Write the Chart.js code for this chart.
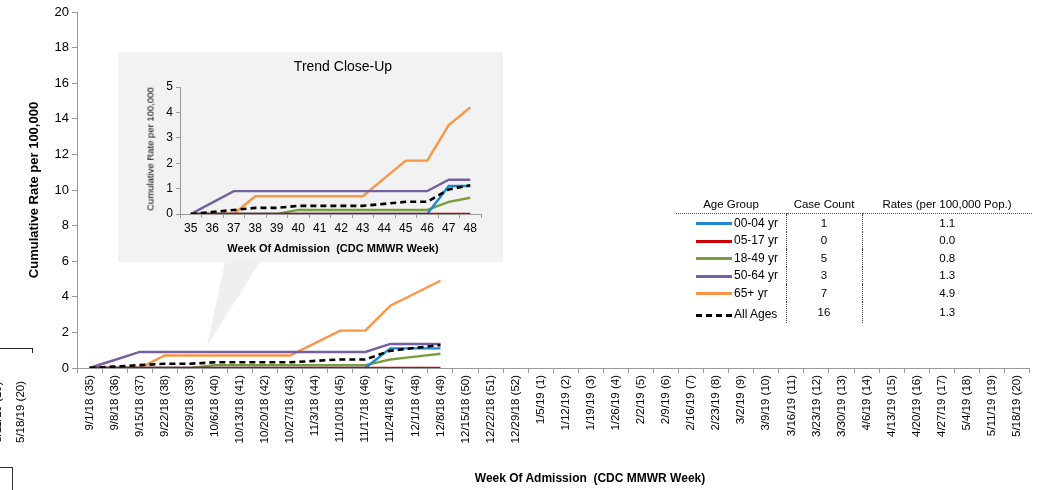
<!DOCTYPE html>
<html>
<head>
<meta charset="utf-8">
<script src="https://cdn.jsdelivr.net/npm/chart.js@4.4.0/dist/chart.umd.min.js"></script>
<style>
  body { margin: 0; background: #fff; font-family: "Liberation Sans", Arial, sans-serif; }
  #wrap { position: relative; width: 1044px; height: 490px; overflow: hidden; }
  #main { position: absolute; left: 0; top: 0; }
  .txt { position: absolute; white-space: nowrap; color: #000; }
  .rot { transform: translate(-50%, -50%) rotate(-90deg); }
  .ctr { transform: translate(-50%, -50%); }
  #inset { position: absolute; left: 118px; top: 52px; width: 385px; height: 210px; background: #f2f2f2; }
  #callout { position: absolute; left: 200px; top: 262px; width: 65px; height: 86px; background: #efefef;
             clip-path: polygon(25px 0, 60px 0, 7px 84px); }
  #legend { position: absolute; left: 676px; top: 196px; width: 356px; font-size: 11.5px; }
  #legend table { border-collapse: collapse; }
  #legend th { font-weight: normal; padding: 0 0 2px 0; border-bottom: 1px dotted #555; height: 15px; }
  #legend td { padding: 0; height: 17.5px; text-align: center; }
  #legend td.name { text-align: left; font-family: "Liberation Sans Narrow", "Liberation Sans", Arial, sans-serif; font-size: 12px; border-right: 1px dotted #444; padding-right: 4px; }
  #legend td.cnt { border-right: 1px dotted #444; }
  .sw { display: inline-block; width: 36px; height: 0; border-top: 3px solid; vertical-align: middle; margin: 0 2px 0 20px; }
</style>
</head>
<body>
<div id="wrap">
  <canvas id="main" width="1044" height="490"></canvas>

  <!-- clipped neighbour chart at the far left -->
  <div class="txt rot" style="left:20px; top:412px; font-size:11.5px;">5/18/19 (20)</div>
  <div class="txt rot" style="left:-3px; top:412px; font-size:11.5px;">5/11/19 (19)</div>
  <div style="position:absolute; left:0; top:348px; width:33px; border-top:1px solid #222;"></div>
  <div style="position:absolute; left:32px; top:348px; height:5px; border-left:1px solid #222;"></div>
  <div style="position:absolute; left:-2px; top:467px; width:13px; height:30px; border:1px solid #333;"></div>

  <div class="txt rot" style="left:33px; top:190px; font-size:13px; font-weight:bold;">Cumulative Rate per 100,000</div>
  <div class="txt ctr" style="left:590px; top:478px; font-size:12px; font-weight:bold;">Week Of Admission&nbsp; (CDC MMWR Week)</div>

  <div id="callout"></div>
  <div id="inset">
    <canvas id="zoom" width="385" height="210"></canvas>
    <div class="txt ctr" style="left:225px; top:14px; font-size:14px;">Trend Close-Up</div>
    <div class="txt rot" style="left:32px; top:97px; font-size:9.5px; font-family:'Liberation Sans Narrow','Liberation Sans',Arial;">Cumulative Rate per 100,000</div>
    <div class="txt ctr" style="left:215px; top:196px; font-size:11px; font-weight:bold;">Week Of Admission&nbsp; (CDC MMWR Week)</div>
  </div>

  <div id="legend">
    <table>
      <tr><th style="width:110px">Age Group</th><th style="width:76px">Case Count</th><th style="width:170px">Rates (per 100,000 Pop.)</th></tr>
      <tbody id="rows"></tbody>
    </table>
  </div>
</div>

<script>
// week labels (date + MMWR week)
const weekLabels = [
  '9/1/18 (35)', '9/8/18 (36)', '9/15/18 (37)', '9/22/18 (38)', '9/29/18 (39)', '10/6/18 (40)',
  '10/13/18 (41)', '10/20/18 (42)', '10/27/18 (43)', '11/3/18 (44)', '11/10/18 (45)', '11/17/18 (46)',
  '11/24/18 (47)', '12/1/18 (48)', '12/8/18 (49)', '12/15/18 (50)', '12/22/18 (51)', '12/29/18 (52)',
  '1/5/19 (1)', '1/12/19 (2)', '1/19/19 (3)', '1/26/19 (4)', '2/2/19 (5)', '2/9/19 (6)',
  '2/16/19 (7)', '2/23/19 (8)', '3/2/19 (9)', '3/9/19 (10)', '3/16/19 (11)', '3/23/19 (12)',
  '3/30/19 (13)', '4/6/19 (14)', '4/13/19 (15)', '4/20/19 (16)', '4/27/19 (17)', '5/4/19 (18)',
  '5/11/19 (19)', '5/18/19 (20)'
];
const closeUpLabels = ['35', '36', '37', '38', '39', '40', '41', '42', '43', '44', '45', '46', '47', '48'];

// cumulative rate per 100,000 by week (weeks 35..49)
const age0004 = [0, 0, 0, 0, 0, 0, 0, 0, 0, 0, 0, 0, 1.1, 1.1, 1.1];
const age0517 = [0, 0, 0, 0, 0, 0, 0, 0, 0, 0, 0, 0, 0, 0, 0];
const age1849 = [0, 0, 0, 0, 0, 0.16, 0.16, 0.16, 0.16, 0.16, 0.16, 0.16, 0.48, 0.64, 0.8];
const age5064 = [0, 0.45, 0.9, 0.9, 0.9, 0.9, 0.9, 0.9, 0.9, 0.9, 0.9, 0.9, 1.35, 1.35, 1.35];
const age65up = [0, 0, 0, 0.7, 0.7, 0.7, 0.7, 0.7, 0.7, 1.4, 2.1, 2.1, 3.5, 4.2, 4.9];
const allAges = [0, 0.08, 0.16, 0.24, 0.24, 0.32, 0.32, 0.32, 0.32, 0.4, 0.48, 0.48, 0.97, 1.13, 1.29];

const groupNames = ['00-04 yr', '05-17 yr', '18-49 yr', '50-64 yr', '65+ yr', 'All Ages'];
const caseCounts = [1, 0, 5, 3, 7, 16];
const rates = ['1.1', '0.0', '0.8', '1.3', '4.9', '1.3'];
const colors = ['#1f88d2', '#cc0000', '#77a03c', '#7460a0', '#f79646', '#000000'];

const seriesList = [age0004, age0517, age1849, age5064, age65up, allAges];

// legend table
const rows = document.getElementById('rows');
groupNames.forEach((name, i) => {
  const tr = document.createElement('tr');
  const style = i === 5 ? 'border-top-style:dashed; border-color:#000; border-top-width:3px;' : 'border-color:' + colors[i] + ';';
  tr.innerHTML = '<td class="name"><span class="sw" style="' + style + '"></span>' + name + '</td>' +
    '<td class="cnt">' + caseCounts[i] + '</td><td>' + rates[i] + '</td>';
  if (i === 5) tr.firstChild.style.paddingTop = '4px';
  rows.appendChild(tr);
});

// dataset 0 is drawn on top, so the dashed total goes first, red next
const drawOrder = [5, 1, 0, 2, 3, 4];
function makeDatasets(len) {
  return drawOrder.map(i => ({
    label: groupNames[i],
    data: seriesList[i].slice(0, len),
    borderColor: colors[i],
    borderWidth: i === 5 ? 2.6 : 2.4,
    borderDash: i === 5 ? [6, 4] : [],
    pointRadius: 0,
    tension: 0,
    fill: false
  }));
}

const axisGrey = '#9a9a9a';
const font = { family: 'Liberation Sans, Arial, sans-serif' };

new Chart(document.getElementById('main'), {
  type: 'line',
  data: { labels: weekLabels, datasets: makeDatasets(15) },
  options: {
    responsive: false,
    animation: false,
    layout: { padding: { top: 12, right: 14.5, left: 0, bottom: 0 } },
    plugins: { legend: { display: false }, tooltip: { enabled: false } },
    scales: {
      x: {
        offset: true,
        grid: { drawOnChartArea: false, color: axisGrey, tickLength: 5, offset: true },
        border: { color: axisGrey },
        ticks: { minRotation: 90, maxRotation: 90, autoSkip: false, padding: 2, color: '#000', font: { ...font, size: 11.5 } },
        afterFit: s => { s.height = 122; }
      },
      y: {
        min: 0, max: 20,
        grid: { drawOnChartArea: false, color: axisGrey, tickLength: 5 },
        border: { color: axisGrey },
        ticks: { stepSize: 2, padding: 3, color: '#000', font: { ...font, size: 13 } },
        afterFit: s => { s.width = 77; }
      }
    }
  }
});

new Chart(document.getElementById('zoom'), {
  type: 'line',
  data: { labels: closeUpLabels, datasets: makeDatasets(14) },
  options: {
    responsive: false,
    animation: false,
    layout: { padding: { top: 35, right: 22, left: 0, bottom: 0 } },
    plugins: { legend: { display: false }, tooltip: { enabled: false } },
    scales: {
      x: {
        offset: true,
        grid: { drawOnChartArea: false, color: axisGrey, tickLength: 4, offset: true },
        border: { color: axisGrey },
        ticks: { maxRotation: 0, autoSkip: false, padding: 3, color: '#000', font: { ...font, size: 12 } },
        afterFit: s => { s.height = 48; }
      },
      y: {
        min: 0, max: 5,
        grid: { drawOnChartArea: false, color: axisGrey, tickLength: 4 },
        border: { color: axisGrey },
        ticks: { stepSize: 1, padding: 3, color: '#000', font: { ...font, size: 12 } },
        afterFit: s => { s.width = 62; }
      }
    }
  }
});
</script>
</body>
</html>
